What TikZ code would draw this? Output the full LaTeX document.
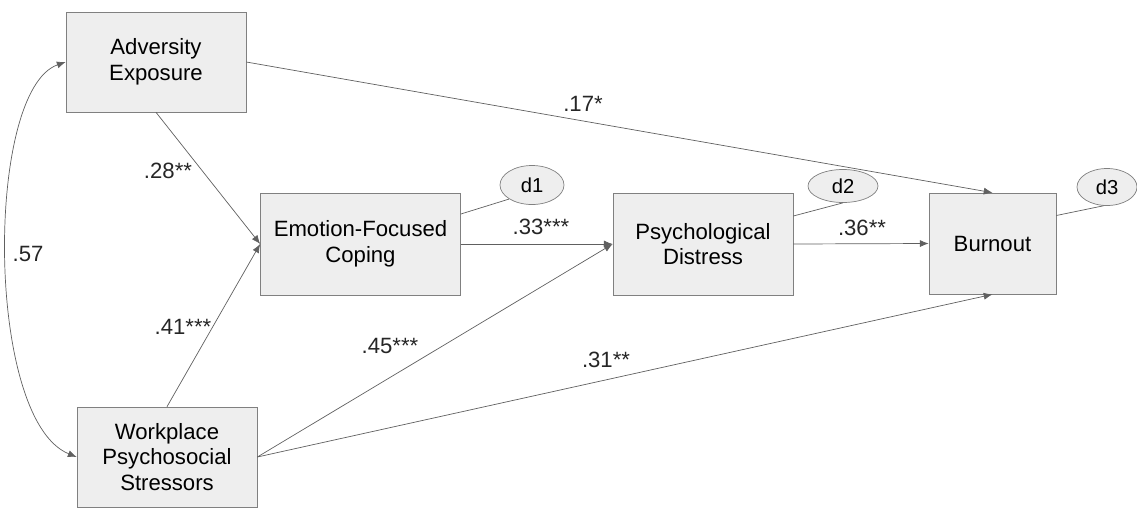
\documentclass[tikz,border=0pt]{standalone}
\usepackage{fontspec}
\setmainfont{Liberation Sans}
\usetikzlibrary{arrows.meta,shapes.geometric}
\definecolor{boxgray}{HTML}{EEEEEE}
\definecolor{linegray}{HTML}{606060}
\definecolor{bordergray}{HTML}{808080}
\tikzset{
  var/.style={draw=bordergray, fill=boxgray, align=center, inner sep=0pt,
    minimum width=3.6cm, minimum height=2cm},
  dist/.style={ellipse, draw=bordergray, fill=boxgray, inner sep=0pt,
    font=\fontsize{11.5}{13}\selectfont},
  arr/.style={draw=linegray, -{Latex[length=5pt,width=4pt]}},
  dline/.style={draw=linegray},
  coef/.style={inner sep=0pt, text=black!85}
}

\begin{document}
\begin{tikzpicture}[x=0.02cm, y=-0.02cm, font=\fontsize{12.6}{14.7}\selectfont]
      \useasboundingbox (0, 0) rectangle (1137, 508);
      % nodes
      \node[var] (adv) at (156, 62) {Adversity\\Exposure};
      \node[var, minimum width=4cm, minimum height=2.04cm] (cope) at (360.5, 244) {Emotion-Focused\\Coping};
      \node[var, minimum height=2.04cm] (dist) at (703, 244) {Psychological\\Distress};
      \node[var, minimum width=2.54cm, minimum height=2.02cm] (burn) at (992.5, 243.5) {Burnout};
      \node[var] (work) at (167, 457) {Workplace\\Psychosocial\\Stressors};
      \node[dist, minimum width=1.28cm, minimum height=0.78cm] (d1) at (532, 185) {d1};
      \node[dist, minimum width=1.4cm, minimum height=0.66cm] (d2) at (843, 186) {d2};
      \node[dist, minimum width=1.2cm, minimum height=0.74cm] (d3) at (1107, 187) {d3};
      % lines
      \draw[arr] (adv.east) -- (burn.north);
      \draw[arr] (adv.south) -- (cope.west);
      \draw[arr] (work.north) -- (cope.west);
      \draw[arr] (cope.east) -- (dist.west);
      \draw[arr] (work.east) -- (dist.west);
      \draw[arr] (work.east) -- (burn.south);
      \draw[arr] (dist.east) -- (burn.west);
      \draw[arr, {Latex[length=5pt,width=4pt]}-{Latex[length=5pt,width=4pt]}]
        (adv.west) .. controls (-15, 90) and (-15, 420) .. (work.west);
      % disturbances
      \draw[dline] ([yshift=0.6cm]cope.east) -- (d1.south west);
      \draw[dline] ([yshift=0.56cm]dist.east) -- (d2.south);
      \draw[dline] ([yshift=0.56cm]burn.east) -- (d3.-100);
      % coefficients
      \node[coef] (c17) at (583, 104) {.17*};
      \node[coef] (c28) at (168, 171) {.28**};
      \node[coef] (c41) at (183, 327) {.41***};
      \node[coef] (c57) at (28, 254) {.57};
      \node[coef] (c33) at (541, 227) {.33***};
      \node[coef] (c36) at (862, 228) {.36**};
      \node[coef] (c45) at (390, 346) {.45***};
      \node[coef] (c31) at (606, 360) {.31**};
\end{tikzpicture}
\end{document}
